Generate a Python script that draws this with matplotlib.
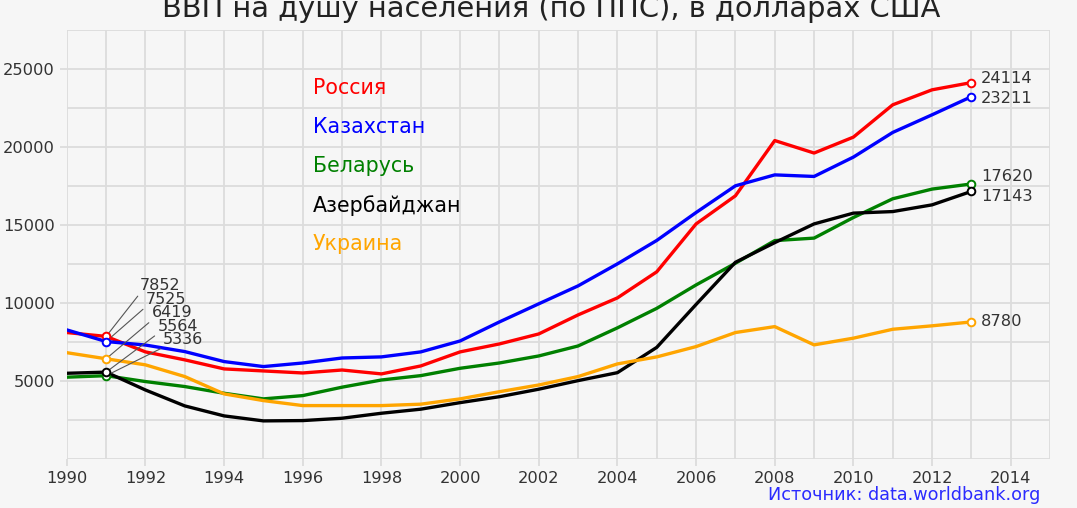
import numpy as np
import matplotlib.pyplot as plt
from matplotlib.ticker import MultipleLocator

years = np.arange(1990, 2014)

russia = [8100, 7852, 6860, 6350, 5770, 5640, 5510, 5700, 5450, 5960, 6860, 7370,
          8010, 9230, 10320, 11990, 15060, 16860, 20400, 19600, 20620, 22690, 23650, 24114]
kazakhstan = [8270, 7525, 7300, 6880, 6240, 5920, 6150, 6470, 6540, 6860, 7560, 8780,
              9940, 11090, 12500, 14000, 15790, 17500, 18200, 18100, 19340, 20920, 22050, 23211]
belarus = [5240, 5336, 4960, 4640, 4210, 3850, 4060, 4600, 5060, 5340, 5810, 6150,
           6600, 7240, 8400, 9650, 11150, 12540, 13990, 14150, 15470, 16670, 17290, 17620]
azerbaijan = [5490, 5564, 4420, 3400, 2760, 2440, 2460, 2610, 2930, 3190, 3610, 3990,
              4470, 5020, 5530, 7150, 9900, 12600, 13860, 15060, 15750, 15850, 16280, 17143]
ukraine = [6810, 6419, 6030, 5280, 4170, 3740, 3420, 3420, 3420, 3510, 3850, 4310,
           4740, 5280, 6090, 6540, 7200, 8100, 8480, 7310, 7740, 8310, 8530, 8780]

names = ["Россия", "Казахстан", "Беларусь", "Азербайджан", "Украина"]
series = [russia, kazakhstan, belarus, azerbaijan, ukraine]
colors = ["red", "blue", "green", "black", "orange"]

# label offsets (points) for the 2013 values
end_dy = [3, -1, 5, -3.5, 0]
# order of the stacked 1991 labels (top to bottom)
start_order = [0, 1, 4, 3, 2]

bg = "#f6f6f6"
fig = plt.figure(figsize=(10.77, 5.08), dpi=100, facecolor=bg)
ax = fig.add_axes([0.062, 0.0965, 0.913, 0.845], facecolor=bg)

for name, vals, c in zip(names, series, colors):
    ax.plot(years, vals, color=c, lw=2.4, zorder=3)
    ax.plot([years[1], years[-1]], [vals[1], vals[-1]], ls="none", marker="o",
            ms=5.5, mfc="white", mec=c, mew=1.4, zorder=4)

# values at 2013
for vals, dy in zip(series, end_dy):
    ax.annotate(str(vals[-1]), (years[-1], vals[-1]), xytext=(7, dy),
                textcoords="offset points", ha="left", va="center",
                fontsize=11.7, color="#333333")

# stacked values at 1991
for k, i in enumerate(start_order):
    v = series[i][1]
    ax.annotate(str(v), (years[1], v),
                xytext=(1991.86 + 0.148 * k, 11090 - 865 * k),
                textcoords="data", ha="left", va="center",
                fontsize=11.5, color="#333333",
                arrowprops=dict(arrowstyle="-", color="#555555", lw=0.8,
                                relpos=(0, 0), shrinkA=0, shrinkB=3))

# country names
for k, (name, c) in enumerate(zip(names, colors)):
    ax.text(1996.25, 23750 - 2500 * k, name, color=c, fontsize=14.8,
            ha="left", va="center")

ax.set_xlim(1990, 2015)
ax.set_ylim(0, 27500)
ax.xaxis.set_major_locator(MultipleLocator(2))
ax.xaxis.set_minor_locator(MultipleLocator(1))
ax.set_yticks([5000, 10000, 15000, 20000, 25000])
ax.yaxis.set_minor_locator(MultipleLocator(2500))
ax.grid(True, which="both", color="#dcdcdc", lw=1.3, zorder=0)
ax.tick_params(which="both", colors="#dcdcdc", labelcolor="#333333",
               labelsize=11.7, length=5, width=1.3)
ax.tick_params(which="minor", length=0)
for s in ax.spines.values():
    s.set_visible(False)
ax.set_axisbelow(True)

fig.text(0.512, 1 - 17 / 508, "ВВП на душу населения (по ППС), в долларах США",
         ha="center", va="baseline", fontsize=20.8, color="#222222")
fig.text(0.966, 0.025, "Источник: data.worldbank.org", ha="right", va="center",
         fontsize=12.7, color="#2b2bff")

plt.savefig("out.png", dpi=100, facecolor=bg)
plt.close(fig)
